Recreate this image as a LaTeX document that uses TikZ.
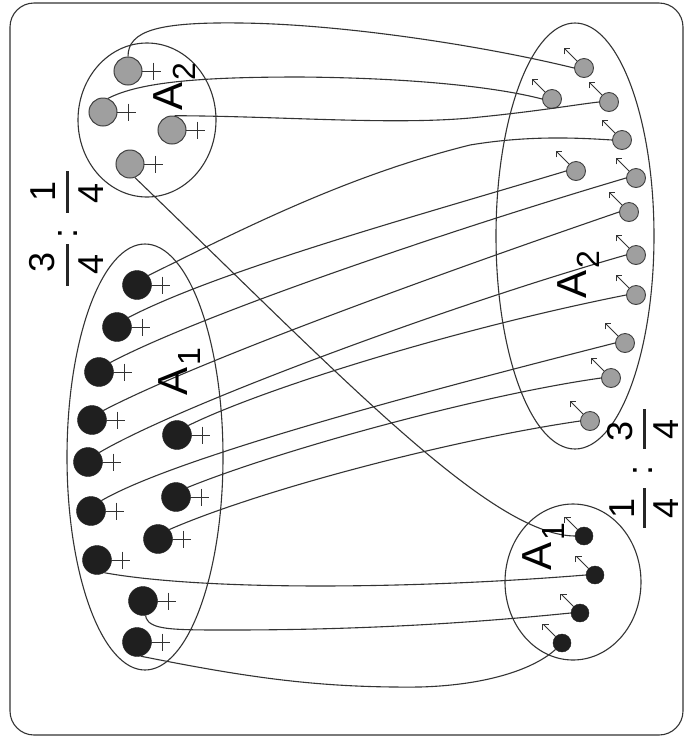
\documentclass[tikz,border=0pt]{standalone}
\usepackage{fontspec}
\setmainfont{Liberation Sans}
\usetikzlibrary{arrows.meta}
\begin{document}
\begin{tikzpicture}[x=1pt,y=-1pt,
  wire/.style={draw=black!80, line width=1.1pt},
  ring/.style={draw=black!80, line width=1.1pt},
  bigblk/.style={circle, fill=black!88, draw=black!88, minimum size=29pt, inner sep=0pt},
  biggry/.style={circle, fill=gray!75, draw=black!75, line width=1pt, minimum size=28pt, inner sep=0pt},
  smgry/.style={circle, fill=gray!75, draw=black!75, line width=0.9pt, minimum size=19pt, inner sep=0pt},
  smblk/.style={circle, fill=black!88, draw=black!88, minimum size=18pt, inner sep=0pt},
  plusmark/.style={draw=black!80, line width=1pt},
  spin/.style={draw=black!80, line width=1pt, -{Straight Barb[angle=90:6pt]}},
  lbl/.style={rotate=90, anchor=base west, inner sep=0pt, font=\fontsize{42}{44}\selectfont},
  frc/.style={rotate=90, inner sep=0pt, font=\fontsize{36}{40}\selectfont},
  fracbar/.style={draw=black!85, line width=3pt},
]
\useasboundingbox (0,0) rectangle (686,740);
\fill[white] (0,0) rectangle (686,740);
\draw[ring, rounded corners=24pt] (10,3) rectangle (683,735);

% groups
\draw[ring] (147,120) ellipse [x radius=69, y radius=77];
\draw[ring] (575,236) ellipse [x radius=79, y radius=213];
\draw[ring] (145,457) ellipse [x radius=78, y radius=213];
\draw[ring] (573,582) ellipse [x radius=68, y radius=78];

% big gray (+)
\node[biggry] (g1) at (128,71) {};
\node[biggry] (g2) at (103,112) {};
\node[biggry] (g3) at (172,130) {};
\node[biggry] (g4) at (130,164) {};
% big black (+)
\node[bigblk] (b1) at (137,285) {};
\node[bigblk] (b2) at (117,327) {};
\node[bigblk] (b3) at (99,372) {};
\node[bigblk] (b4) at (92,420) {};
\node[bigblk] (b5) at (88,462) {};
\node[bigblk] (b6) at (177,435) {};
\node[bigblk] (b7) at (176,497) {};
\node[bigblk] (b8) at (91,511) {};
\node[bigblk] (b9) at (158,539) {};
\node[bigblk] (b10) at (97,560) {};
\node[bigblk] (b11) at (143,601) {};
\node[bigblk] (b12) at (137,642) {};
% small gray (arrow)
\node[smgry] (r1) at (584,68) {};
\node[smgry] (r2) at (552,99) {};
\node[smgry] (r3) at (609,102) {};
\node[smgry] (r4) at (622,140) {};
\node[smgry] (r5) at (576,171) {};
\node[smgry] (r6) at (636,178) {};
\node[smgry] (r7) at (629,212) {};
\node[smgry] (r8) at (636,255) {};
\node[smgry] (r9) at (636,295) {};
\node[smgry] (r10) at (625,343) {};
\node[smgry] (r11) at (611,378) {};
\node[smgry] (r12) at (590,421) {};
% small black (arrow)
\node[smblk] (k1) at (584,536) {};
\node[smblk] (k2) at (595,575) {};
\node[smblk] (k3) at (580,613) {};
\node[smblk] (k4) at (562,643) {};

% plus marks
\foreach \n in {g1,g2,g3,g4,b1,b2,b3,b4,b5,b6,b7,b8,b9,b10,b11,b12}{
  \draw[plusmark] (\n) ++(14,0) -- ++(19,0) (\n) ++(25,-8.5) -- ++(0,17);
}
% spin arrows
\foreach \n in {r1,r2,r3,r4,r5,r6,r7,r8,r9,r10,r11,r12,k1,k2,k3,k4}{
  \draw[spin] (\n.135) -- ++(-13,-13);
}

% connectors
\draw[wire] (g1.north) .. controls (128,30) and (160,22) .. (240,23) .. controls (340,24) and (480,45) .. (r1.west);
\draw[wire] (g2.70) .. controls (140,82) and (200,77) .. (300,77) .. controls (420,78) and (500,88) .. (r2.west);
\draw[wire] (g3.80) .. controls (280,116) and (400,126) .. (480,117) .. controls (540,111) and (580,104) .. (r3.west);
\draw[wire] (g4.-70) .. controls (340,375) and (490,535) .. (k1.west);

\draw[wire] (b1.40) .. controls (250,225) and (350,175) .. (470,145) .. controls (530,135) and (580,138) .. (r4.west);
\draw[wire] (b2.40) .. controls (220,270) and (420,215) .. (r5.west);
\draw[wire] (b3.40) .. controls (200,315) and (450,230) .. (r6.west);
\draw[wire] (b4.40) .. controls (200,360) and (450,270) .. (r7.west);
\draw[wire] (b5.40) .. controls (180,405) and (450,305) .. (r8.west);
\draw[wire] (b6.40) .. controls (260,390) and (450,330) .. (r9.west);
\draw[wire] (b8.45) .. controls (180,455) and (450,385) .. (r10.west);
\draw[wire] (b7.40) .. controls (280,450) and (480,395) .. (r11.west);
\draw[wire] (b9.40) .. controls (260,490) and (450,440) .. (r12.west);

\draw[wire] (b10.-60) .. controls (200,590) and (400,590) .. (k2.west);
\draw[wire] (b11.-80) .. controls (148,630) and (170,630) .. (230,630) .. controls (400,630) and (520,618) .. (k3.west);
\draw[wire] (b12.-75) .. controls (250,678) and (320,688) .. (420,687) .. controls (490,685) and (535,668) .. (k4.south west);

% labels
\node[lbl] (la2) at (182,111) {A\kern2pt\raisebox{-13pt}{\fontsize{32}{34}\selectfont 2}};
\node[lbl] (lb2) at (586,299) {A\kern2pt\raisebox{-13pt}{\fontsize{32}{34}\selectfont 2}};
\node[lbl] (la1) at (187,396) {A\kern2pt\raisebox{-13pt}{\fontsize{32}{34}\selectfont 1}};
\node[lbl] (lb1) at (551,571) {A\kern2pt\raisebox{-13pt}{\fontsize{32}{34}\selectfont 1}};

% ratios top-left
\node[frc] (na1) at (43,191) {1};
\node[frc] (da1) at (91,193) {4};
\draw[fracbar] (67,171) -- (67,213);
\node[frc] (ca) at (68,233) {:};
\node[frc] (na3) at (42,262) {3};
\node[frc] (da3) at (91,264) {4};
\draw[fracbar] (67,244) -- (67,286);
% ratios bottom-right
\node[frc] (nb1) at (622,508) {1};
\node[frc] (db1) at (666,508) {4};
\draw[fracbar] (644,488) -- (644,528);
\node[frc] (cb) at (643,470) {:};
\node[frc] (nb3) at (620,431) {3};
\node[frc] (db3) at (666,429) {4};
\draw[fracbar] (644,409) -- (644,449);
\end{tikzpicture}
\end{document}
